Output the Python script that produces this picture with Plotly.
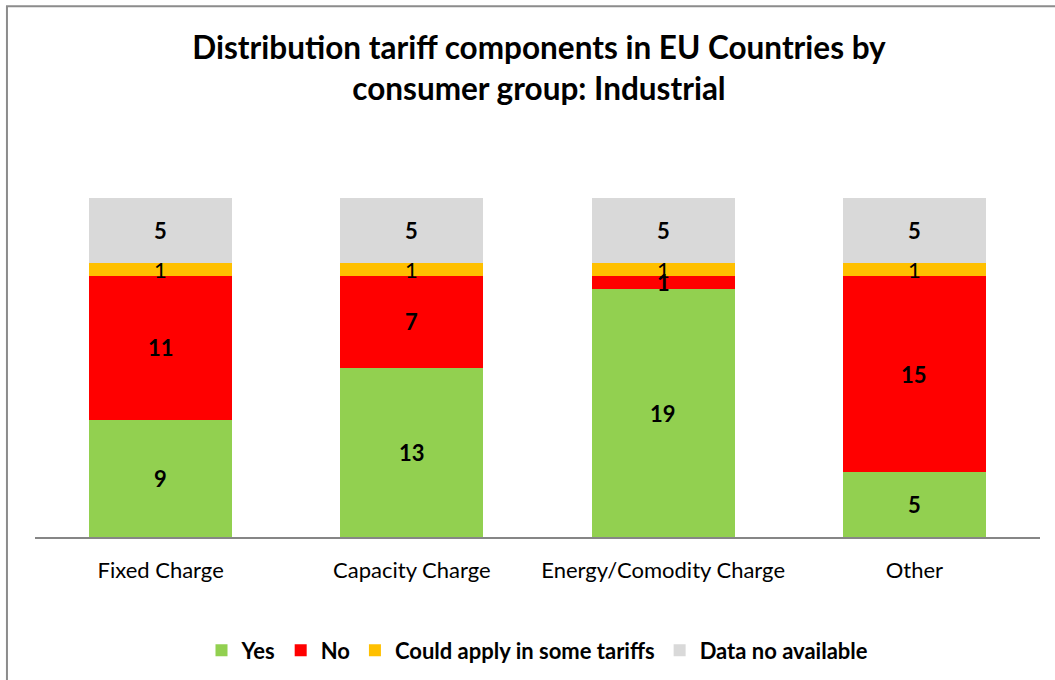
import plotly.graph_objects as go
import numpy as np

categories = ["Fixed Charge", "Capacity Charge", "Energy/Comodity Charge", "Other"]
yes_vals = [9, 13, 19, 5]
no_vals = [11, 7, 1, 15]
some_vals = [1, 1, 1, 1]
na_vals = [5, 5, 5, 5]

series = [
    ("Yes", yes_vals, "#92D050", True),
    ("No", no_vals, "#FF0000", True),
    ("Could apply in some tariffs", some_vals, "#FFC000", False),
    ("Data no available", na_vals, "#D9D9D9", True),
]

FONT = "Lato"

fig = go.Figure()
base = np.zeros(len(categories))
annotations = []
for name, vals, color, bold in series:
    fig.add_trace(go.Bar(
        x=categories, y=vals, name=f"<b>{name}</b>",
        marker=dict(color=color, line=dict(width=0)),
        hoverinfo="skip",
    ))
    # value labels centred on each stacked segment
    for i, v in enumerate(vals):
        txt = f"<b>{v}</b>" if bold else str(v)
        annotations.append(dict(
            x=categories[i], y=base[i] + v / 2, text=txt,
            showarrow=False, xref="x", yref="y",
            font=dict(family=FONT, size=22, color="#000000"),
        ))
    base = base + np.array(vals)

fig.update_layout(
    barmode="stack",
    bargap=0.43,
    width=1055, height=680,
    margin=dict(l=35, r=15, t=198, b=143, autoexpand=False),
    paper_bgcolor="white", plot_bgcolor="white",
    font=dict(family=FONT, color="#000000"),
    title=dict(
        text="<b>Distribution tariff components in EU Countries by<br>consumer group: Industrial</b>",
        font=dict(family=FONT, size=31.5, color="#000000"),
        x=0.5015, xref="paper", xanchor="center",
        y=1 - 59 / 680, yref="container", yanchor="middle",
    ),
    xaxis=dict(
        showgrid=False, showline=True, linecolor="#868686", linewidth=2,
        ticks="", tickfont=dict(family=FONT, size=22, color="#000000"),
        ticklabelstandoff=13, automargin=False,
    ),
    yaxis=dict(range=[0, 26], visible=False, showgrid=False, automargin=False),
    legend=dict(
        orientation="h", x=0.5, xanchor="center", y=-0.335, yanchor="middle",
        font=dict(family=FONT, size=22, color="#000000"),
        traceorder="normal", itemwidth=30,
    ),
    annotations=annotations,
    shapes=[dict(
        type="rect", xref="paper", yref="paper",
        x0=-0.0279, x1=1.05, y0=-0.5, y1=1.566,
        line=dict(color="#8C8C8C", width=2), fillcolor="rgba(0,0,0,0)",
        layer="below",
    )],
)

fig.write_html("out.html")
